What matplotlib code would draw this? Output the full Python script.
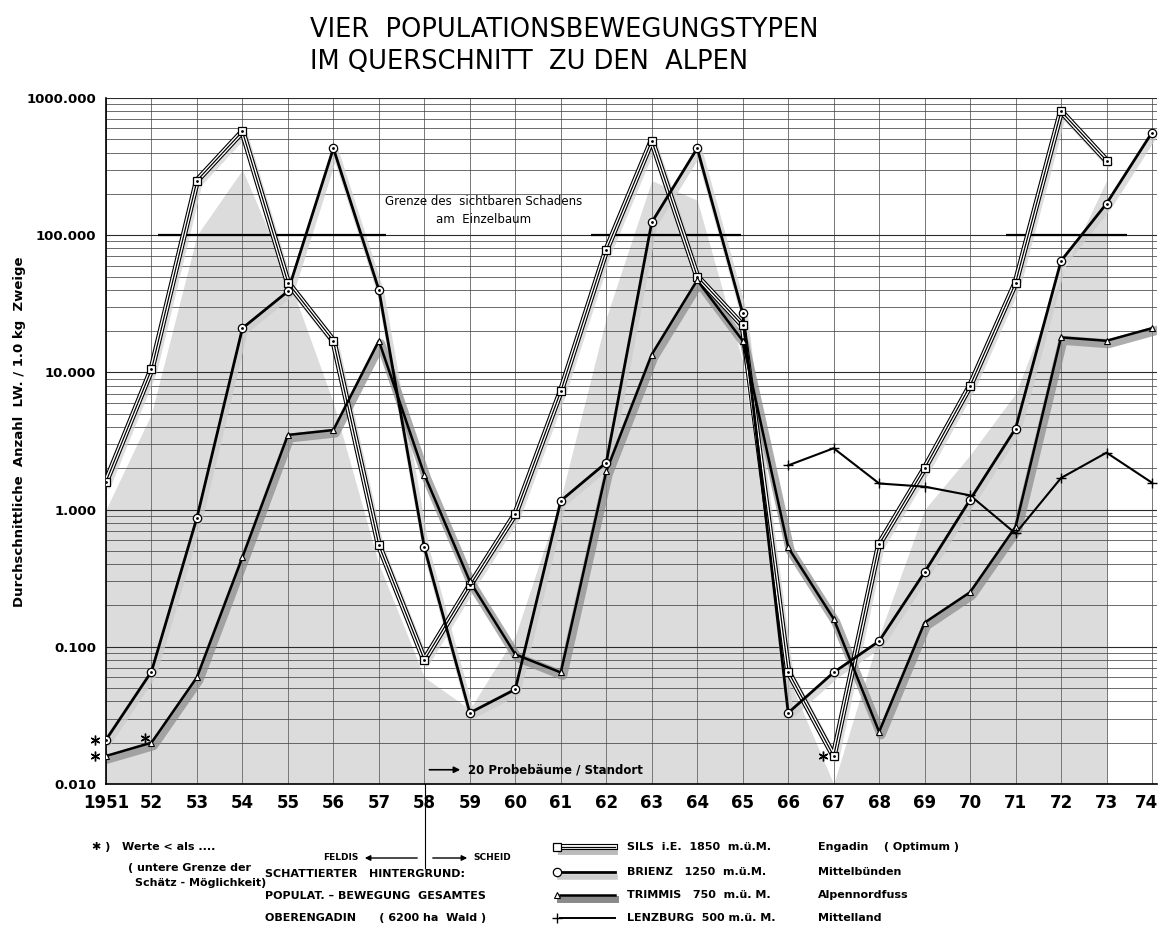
#Importing numpy and pyplot
import numpy as np
import matplotlib.pyplot as plt
import matplotlib.patheffects as pe
from matplotlib.transforms import offset_copy
from matplotlib.ticker import LogLocator, NullFormatter, FixedLocator

nan = np.nan

years = np.arange(1951, 1975)
year_labels = ['1951'] + [str(y)[2:] for y in years[1:]]

#Sils i.E. 1850 m (Engadin)
sils = [1.6, 10.5, 250, 570, 45, 17, 0.55, 0.08, 0.28, 0.93, 7.3, 78,
        490, 50, 22, 0.066, 0.016, 0.56, 2.0, 8.0, 45, 800, 350, nan]
#Brienz 1250 m (Mittelbuenden)
brienz = [0.021, 0.066, 0.875, 21, 39, 430, 40, 0.53, 0.033, 0.049, 1.16, 2.2,
          124, 430, 27, 0.033, 0.065, 0.11, 0.35, 1.18, 3.9, 65, 170, 560]
#Trimmis 750 m (Alpennordfuss)
trimmis = [0.016, 0.020, 0.06, 0.45, 3.5, 3.8, 17, 1.8, 0.30, 0.088, 0.065, 1.9,
           13.5, 47, 17, 0.53, 0.16, 0.024, 0.15, 0.25, 0.75, 18, 17, 21]
#Lenzburg 500 m (Mittelland)
lenzburg = [nan]*15 + [2.1, 2.8, 1.55, 1.47, 1.27, 0.67, 1.7, 2.6, 1.57]
#gesamtes Oberengadin (shaded background)
gesamt = [1.0, 5, 100, 300, 50, 6, 0.4, 0.06, 0.035, 0.12, 1.2, 25,
          250, 180, 12, 0.06, 0.01, 0.12, 1.0, 2.5, 7, 50, 250, nan]

#values below estimation limit
stars_x = [1950.76, 1950.76, 1951.86, 1966.77]
stars_y = [0.021, 0.016, 0.0215, 0.016]

#limit of visible damage (segments at 100)
grenze_x0 = [1952.15, 1961.66, 1970.8]
grenze_x1 = [1957.15, 1964.97, 1973.45]

y_ticks = [0.01, 0.1, 1, 10, 100, 1000]
y_labels = ['0.010', '0.100', '1.000', '10.000', '100.000', '1000.000']

fig = plt.figure(figsize=(11.6, 9.25), dpi=100)
ax = fig.add_axes([106/1160, 141/925, 1051/1160, 686/925])
ax.set_yscale('log')
ax.set_xlim(1951, 1974.11)
ax.set_ylim(0.01, 1000)

#grid like log paper
ax.yaxis.set_major_locator(FixedLocator(y_ticks))
ax.yaxis.set_minor_locator(LogLocator(base=10, subs=range(2, 10)))
ax.yaxis.set_minor_formatter(NullFormatter())
ax.set_yticklabels(y_labels, fontsize=9.5, fontweight='bold')
ax.set_xticks(years)
#last label sits on the right edge, it is drawn separately a little inside
ax.set_xticklabels(year_labels[:-1] + [''], fontsize=12, fontweight='bold')
ax.tick_params(which='both', length=0)
ax.tick_params(axis='x', pad=7)
ax.tick_params(axis='y', pad=7)
ax.set_axisbelow(True)
ax.grid(axis='y', which='major', color='#2a2a2a', lw=0.8)
ax.grid(axis='y', which='minor', color='#444444', lw=0.55)
ax.grid(axis='x', which='major', color='#777777', lw=0.7)
for s in ['top', 'right']:
    ax.spines[s].set_visible(False)
ax.spines['left'].set_linewidth(1.2)
ax.spines['bottom'].set_linewidth(1.2)

#shaded background
ax.fill_between(years, 0.01, gesamt, color='#dcdcdc', lw=0, zorder=0.2)

#shadow bands
band = offset_copy(ax.transData, fig=fig, x=2, y=-3, units='dots')
ax.plot(years, sils, color='#c8c8c8', lw=5, alpha=0.6, transform=band, zorder=1.5)
ax.plot(years, brienz, color='#cccccc', lw=5, alpha=0.7, transform=band, zorder=1.5)
ax.plot(years, trimmis, color='#8a8a8a', lw=6.5, alpha=0.7, transform=band, zorder=1.6)

#lines
triple = [pe.Stroke(linewidth=4.4, foreground='k'), pe.Stroke(linewidth=2.8, foreground='w'), pe.Normal()]
ax.plot(years, sils, color='k', lw=0.9, path_effects=triple, zorder=3)
ax.plot(years, brienz, color='k', lw=2.0, zorder=3.2)
ax.plot(years, trimmis, color='k', lw=1.8, zorder=3.1)
ax.plot(years, lenzburg, color='k', lw=1.5, zorder=3.3)

#markers
ax.plot(years, sils, 's', ms=5.5, mfc='w', mec='k', mew=0.9, zorder=4)
ax.plot(years, sils, '.', ms=2, color='k', zorder=4.1)
ax.plot(years, brienz, 'o', ms=6, mfc='w', mec='k', mew=0.9, zorder=4)
ax.plot(years, brienz, '.', ms=2, color='k', zorder=4.1)
ax.plot(years, trimmis, '^', ms=5, mfc='w', mec='k', mew=0.8, zorder=4)
ax.plot(years, lenzburg, '+', ms=7, color='k', mew=1.0, zorder=4)
ax.plot(stars_x, stars_y, ls='none', marker=(6, 2, 0), ms=7, color='k', mew=1.0, zorder=4, clip_on=False)

ax.hlines([100]*len(grenze_x0), grenze_x0, grenze_x1, color='k', lw=1.6, zorder=2)
ax.text(1959.3, 175, 'Grenze des  sichtbaren Schadens', ha='center', va='center', fontsize=8.5)
ax.text(1959.3, 130, 'am  Einzelbaum', ha='center', va='center', fontsize=8.5)

ax.annotate('', xy=(1958.85, 0.0127), xytext=(1958.05, 0.0127),
            arrowprops=dict(arrowstyle='-|>', color='k', lw=1.2, mutation_scale=9))
ax.text(1958.95, 0.0127, '20 Probebäume / Standort', va='center', fontsize=8.5, fontweight='bold')

#overlay in pixel units for title, axis label and legend
lax = fig.add_axes([0, 0, 1, 1])
lax.set_xlim(0, 1160)
lax.set_ylim(925, 0)
lax.axis('off')
lax.patch.set_alpha(0)

lax.text(1146, 803, year_labels[-1], ha='center', va='center', fontsize=12, fontweight='bold')

lax.text(20, 432, 'Durchschnittliche  Anzahl  LW. / 1.0 kg  Zweige', rotation=90,
         ha='center', va='center', fontsize=9.5, fontweight='bold')

lax.text(310, 30, 'VIER  POPULATIONSBEWEGUNGSTYPEN', fontsize=18.5, va='center')
lax.text(310, 62, 'IM QUERSCHNITT  ZU DEN  ALPEN', fontsize=18.5, va='center')

#Feldis / Scheid
lax.plot([425, 425], [784, 868], color='k', lw=0.8)
lax.annotate('', xy=(362, 858), xytext=(420, 858), arrowprops=dict(arrowstyle='-|>', color='k', lw=1, mutation_scale=8))
lax.annotate('', xy=(470, 858), xytext=(430, 858), arrowprops=dict(arrowstyle='-|>', color='k', lw=1, mutation_scale=8))
lax.text(358, 858, 'FELDIS', ha='right', va='center', fontsize=6.5, fontweight='bold')
lax.text(473, 858, 'SCHEID', ha='left', va='center', fontsize=6.5, fontweight='bold')

fs = 8
lax.text(92, 847, '✱ )   Werte < als ....', va='center', fontsize=fs, fontweight='bold')
lax.text(128, 868, '( untere Grenze der', va='center', fontsize=fs, fontweight='bold')
lax.text(135, 883, 'Schätz - Möglichkeit)', va='center', fontsize=fs, fontweight='bold')
lax.text(265, 874, 'SCHATTIERTER   HINTERGRUND:', va='center', fontsize=fs, fontweight='bold')
lax.text(265, 896, 'POPULAT. – BEWEGUNG  GESAMTES', va='center', fontsize=fs, fontweight='bold')
lax.text(265, 918, 'OBERENGADIN      ( 6200 ha  Wald )', va='center', fontsize=fs, fontweight='bold')

names = ['SILS  i.E.  1850  m.ü.M.', 'BRIENZ   1250  m.ü.M.', 'TRIMMIS   750  m.ü. M.', 'LENZBURG  500 m.ü. M.']
regions = ['Engadin    ( Optimum )', 'Mittelbünden', 'Alpennordfuss', 'Mittelland']
rows = [847, 872, 895, 918]
for n, r, y in zip(names, regions, rows):
    lax.text(627, y, n, va='center', fontsize=fs, fontweight='bold')
    lax.text(818, y, r, va='center', fontsize=fs, fontweight='bold')

#legend symbols
lax.plot([560, 615], [rows[0]+5, rows[0]+5], color='#bbbbbb', lw=3.5)
lax.plot([560, 615], [rows[0], rows[0]], color='k', lw=0.9, path_effects=triple)
lax.plot([557], [rows[0]], 's', ms=5.5, mfc='w', mec='k', mew=0.9)
lax.plot([560, 615], [rows[1]+5, rows[1]+5], color='#cccccc', lw=4)
lax.plot([560, 615], [rows[1], rows[1]], color='k', lw=2)
lax.plot([557], [rows[1]], 'o', ms=6, mfc='w', mec='k', mew=0.9)
lax.plot([560, 615], [rows[2]+4, rows[2]+4], color='#8a8a8a', lw=5)
lax.plot([560, 615], [rows[2], rows[2]], color='k', lw=1.8)
lax.plot([557], [rows[2]], '^', ms=5, mfc='w', mec='k', mew=0.8)
lax.plot([560, 615], [rows[3], rows[3]], color='k', lw=1.4)
lax.plot([557], [rows[3]], '+', ms=7, color='k', mew=1.0)

plt.savefig('out.png', dpi=100)
